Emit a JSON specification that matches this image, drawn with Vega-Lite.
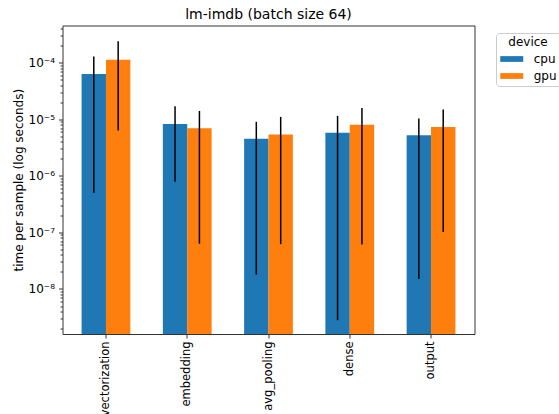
{
  "$schema": "https://vega.github.io/schema/vega-lite/v6.json",
  "autosize": {"type": "none"},
  "padding": {"left": 62.5, "top": 25.5, "right": 84.5, "bottom": 80},
  "width": 412,
  "height": 308.5,
  "title": {
    "text": "lm-imdb (batch size 64)",
    "font": "DejaVu Sans",
    "fontSize": 14,
    "fontWeight": "normal",
    "color": "#000",
    "offset": 4
  },
  "config": {
    "font": "DejaVu Sans",
    "view": {"stroke": "#333", "strokeWidth": 1},
    "axis": {
      "labelFont": "DejaVu Sans",
      "titleFont": "DejaVu Sans",
      "labelColor": "#000",
      "titleColor": "#000",
      "tickColor": "#333",
      "domainColor": "#333",
      "grid": false
    }
  },
  "data": {
    "values": [
      {"layer": "vectorization", "device": "cpu", "value": 6.3e-5, "lo": 5.0e-7, "hi": 1.28e-4},
      {"layer": "vectorization", "device": "gpu", "value": 1.13e-4, "lo": 6.3e-6, "hi": 2.38e-4},
      {"layer": "embedding", "device": "cpu", "value": 8.2e-6, "lo": 7.85e-7, "hi": 1.7e-5},
      {"layer": "embedding", "device": "gpu", "value": 6.9e-6, "lo": 6.3e-8, "hi": 1.4e-5},
      {"layer": "avg_pooling", "device": "cpu", "value": 4.5e-6, "lo": 1.8e-8, "hi": 9.0e-6},
      {"layer": "avg_pooling", "device": "gpu", "value": 5.4e-6, "lo": 6.2e-8, "hi": 1.1e-5},
      {"layer": "dense", "device": "cpu", "value": 5.75e-6, "lo": 2.8e-9, "hi": 1.15e-5},
      {"layer": "dense", "device": "gpu", "value": 7.96e-6, "lo": 6.1e-8, "hi": 1.58e-5},
      {"layer": "output", "device": "cpu", "value": 5.2e-6, "lo": 1.5e-8, "hi": 1.03e-5},
      {"layer": "output", "device": "gpu", "value": 7.3e-6, "lo": 1.02e-7, "hi": 1.48e-5}
    ]
  },
  "encoding": {
    "x": {
      "field": "layer",
      "type": "nominal",
      "sort": ["vectorization", "embedding", "avg_pooling", "dense", "output"],
      "scale": {"paddingInner": 0.4, "paddingOuter": 0.235},
      "axis": {
        "title": null,
        "labelAngle": -90,
        "labelFontSize": 11.5,
        "tickSize": 4,
        "labelPadding": 3,
        "domain": false
      }
    },
    "xOffset": {
      "field": "device",
      "type": "nominal",
      "sort": ["cpu", "gpu"],
      "scale": {"paddingInner": 0, "paddingOuter": 0}
    }
  },
  "layer": [
    {
      "mark": {"type": "bar"},
      "encoding": {
        "y": {
          "field": "value",
          "type": "quantitative",
          "scale": {"type": "log", "domain": [1.6e-9, 4.54e-4], "nice": false},
          "axis": {
            "title": "time per sample (log seconds)",
            "titleFontSize": 12,
            "titleFontWeight": "normal",
            "titlePadding": 3,
            "values": [1e-8, 1e-7, 1e-6, 1e-5, 1e-4],
            "labelExpr": "'10' + (round(log(datum.value)/LN10) == -4 ? '⁻⁴' : round(log(datum.value)/LN10) == -5 ? '⁻⁵' : round(log(datum.value)/LN10) == -6 ? '⁻⁶' : round(log(datum.value)/LN10) == -7 ? '⁻⁷' : '⁻⁸')",
            "labelFontSize": 12,
            "tickSize": 4,
            "labelPadding": 4,
            "domain": false
          }
        },
        "y2": {"datum": 1.6e-9},
        "color": {
          "field": "device",
          "type": "nominal",
          "sort": ["cpu", "gpu"],
          "scale": {"domain": ["cpu", "gpu"], "range": ["#1f77b4", "#ff7f0e"]},
          "legend": {
            "title": "device",
            "orient": "none",
            "legendX": 433.5,
            "legendY": 7.5,
            "titleFontSize": 12,
            "titleFontWeight": "normal",
            "titleAnchor": "middle",
            "titleColor": "#000",
            "titlePadding": 4,
            "labelFontSize": 12,
            "labelColor": "#000",
            "symbolType": "M-2,-0.5H2V0.5H-2Z",
            "symbolSize": 132,
            "symbolOffset": 5.75,
            "symbolStrokeWidth": 0,
            "rowPadding": 5,
            "labelOffset": 16,
            "padding": 4,
            "strokeColor": "#cccccc",
            "fillColor": "#ffffff",
            "cornerRadius": 3
          }
        }
      }
    },
    {
      "mark": {"type": "rule", "color": "#000", "strokeWidth": 1.5},
      "encoding": {
        "y": {
          "field": "lo",
          "type": "quantitative",
          "axis": {
            "orient": "left",
            "title": null,
            "labels": false,
            "domain": false,
            "tickSize": 2.4,
            "values": [2e-9, 3e-9, 4e-9, 5e-9, 6e-9, 7e-9, 8e-9, 9e-9,
                       2e-8, 3e-8, 4e-8, 5e-8, 6e-8, 7e-8, 8e-8, 9e-8,
                       2e-7, 3e-7, 4e-7, 5e-7, 6e-7, 7e-7, 8e-7, 9e-7,
                       2e-6, 3e-6, 4e-6, 5e-6, 6e-6, 7e-6, 8e-6, 9e-6,
                       2e-5, 3e-5, 4e-5, 5e-5, 6e-5, 7e-5, 8e-5, 9e-5,
                       2e-4, 3e-4, 4e-4]
          }
        },
        "y2": {"field": "hi"}
      }
    }
  ],
  "resolve": {"axis": {"y": "independent"}}
}
